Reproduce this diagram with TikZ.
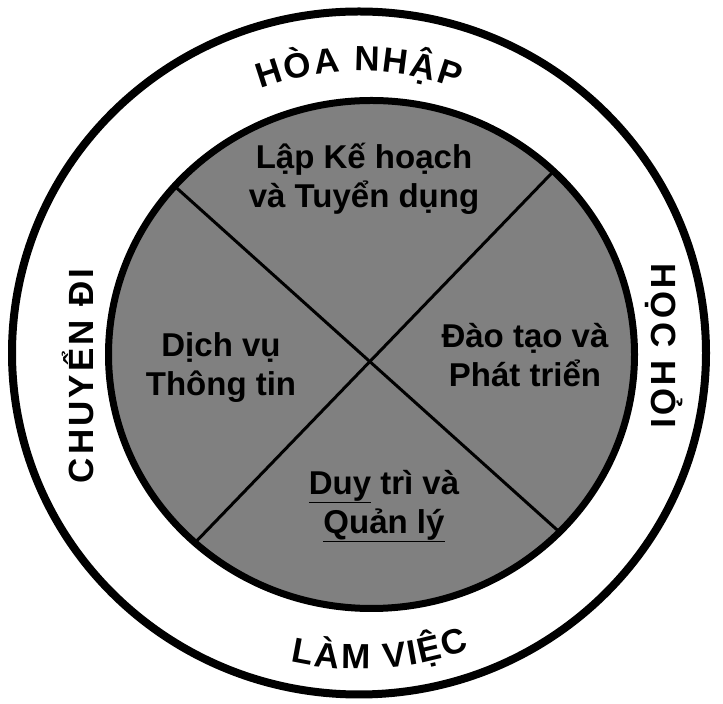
\documentclass[tikz,border=0pt]{standalone}
\usepackage{fontspec}
\setmainfont{Liberation Sans}
\begin{document}
\begin{tikzpicture}[x=1pt,y=1pt,
  ringlabel/.style={font=\fontsize{35}{42}\selectfont\bfseries, inner sep=0pt},
  quadlabel/.style={font=\fontsize{33}{39}\selectfont\bfseries, align=center, inner sep=0pt},
  crossline/.style={line width=3pt, black}]
\useasboundingbox (0,0) rectangle (723,704);
\coordinate (O) at (359,351);
\coordinate (I) at (371.5,349.5);
% outer ring
\draw[line width=8pt] (O) ellipse [x radius=347, y radius=341.5];
% inner disc
\fill[black!50] (I) ellipse [x radius=263, y radius=254];
\begin{scope}
  \clip (I) ellipse [x radius=263, y radius=254];
  \coordinate (a1) at (141.5,547.6);
  \coordinate (a2) at (603.5,132.4);
  \coordinate (b1) at (150.9,115.6);
  \coordinate (b2) at (584.1,564.4);
  \draw[crossline] (a1) -- (a2);
  \draw[crossline] (b1) -- (b2);
\end{scope}
\draw[line width=7pt] (I) ellipse [x radius=263, y radius=254];
% quadrant labels
\node[quadlabel] (q1) at (364,525) {Lập Kế hoạch\\và Tuyển dụng};
\node[quadlabel] (q2) at (221,336) {Dịch vụ\\Thông tin};
\node[quadlabel] (q3) at (525,349) {Đào tạo và\\Phát triển};
\node[quadlabel] (q4) at (384,198) {\underline{Duy} trì và\\\underline{Quản lý}};
% side labels
\node[ringlabel, rotate=90, anchor=base] (lt) at (93,328) {\addfontfeatures{LetterSpace=9}CHUYỂN ĐI};
\node[ringlabel, rotate=-90, anchor=base] (rt) at (651,358) {\addfontfeatures{LetterSpace=9}HỌC HỎI};
% curved top and bottom labels
\begin{scope}[shift={(O)}]
  \foreach \ch/\a in {H/-17.9, Ò/-12.1, A/-6.4, N/1.6, H/7.2, Ậ/12.7, P/18.1}
    \node[ringlabel, anchor=base, rotate={0-\a}] at ({90-\a}:282) {\ch};
  \foreach \ch/\a in {L/-10.6, À/-5.9, M/-0.6, V/6.7, I/10.0, Ệ/13.4, C/18.2}
    \node[ringlabel, anchor=base, rotate=\a] at ({-90+\a}:316) {\ch};
\end{scope}
\end{tikzpicture}
\end{document}
